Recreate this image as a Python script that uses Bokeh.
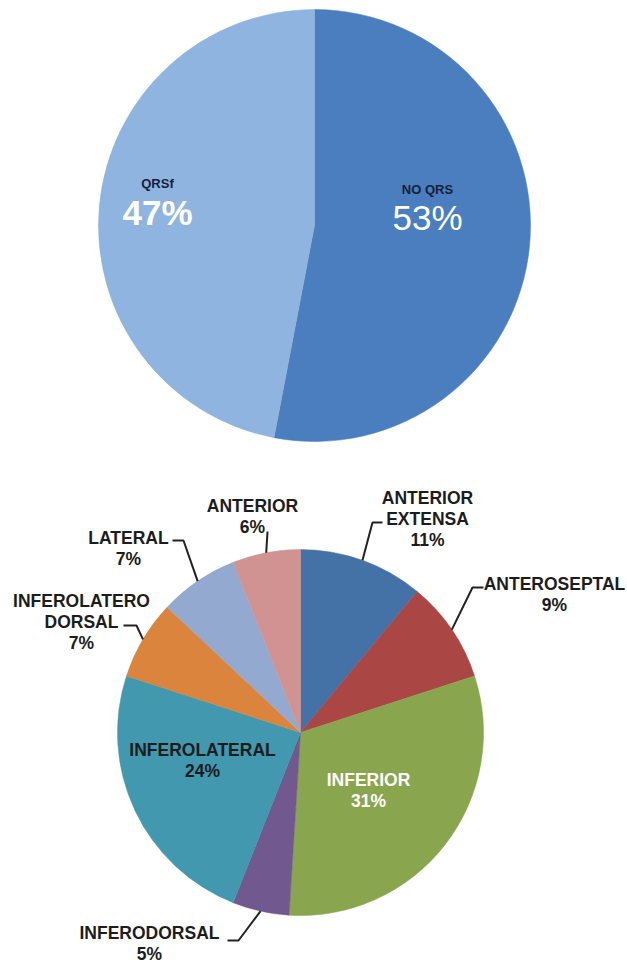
import math
from bokeh.plotting import figure
from bokeh.models import ColumnDataSource, Range1d
from bokeh.core.properties import value
from bokeh.embed import file_html
from bokeh.resources import INLINE

W, H = 627, 962

# ---------------- data ----------------
top_categories = ["NO QRS", "QRSf"]
top_values = [53, 47]

bottom_categories = ["ANTERIOR EXTENSA", "ANTEROSEPTAL", "INFERIOR", "INFERODORSAL",
                     "INFEROLATERAL", "INFEROLATERO DORSAL", "LATERAL", "ANTERIOR"]
bottom_values = [11, 9, 31, 5, 24, 7, 7, 6]

# ---------------- styles ----------------
top_colors = ["#4a7ebf", "#8fb4e0"]
bottom_colors = ["#4471a6", "#aa4643", "#89a54e", "#71588f",
                 "#4198af", "#db843d", "#93a9cf", "#d19392"]

FONT = value("Liberation Sans")
DARK = "#1c1c1c"

TOP_C = (314, 225, 216)
BOT_C = (300, 732, 183)

p = figure(width=W, height=H, output_backend="svg", toolbar_location=None,
           x_range=Range1d(0, W), y_range=Range1d(0, H),
           min_border=0, min_border_left=0, min_border_right=0,
           min_border_top=0, min_border_bottom=0)
p.axis.visible = False
p.xgrid.visible = False
p.ygrid.visible = False
p.outline_line_color = None
p.background_fill_color = "white"
p.border_fill_color = "white"


def Y(py):
    return H - py


def pie(values, colors, center):
    cx, cy, r = center
    total = float(sum(values))
    starts, ends, mids = [], [], []
    cum = 0.0
    for v in values:
        a_end = math.pi / 2 - 2 * math.pi * cum / total
        a_start = math.pi / 2 - 2 * math.pi * (cum + v) / total
        starts.append(a_start)
        ends.append(a_end)
        mids.append((a_start + a_end) / 2)
        cum += v
    src = ColumnDataSource(dict(x=[cx] * len(values), y=[Y(cy)] * len(values),
                                start=starts, end=ends, color=colors))
    p.wedge(x="x", y="y", radius=r, start_angle="start", end_angle="end",
            fill_color="color", line_color="color", line_width=0.5, source=src)
    return mids


def text(x, y, s, size, color, style="bold"):
    p.text(x=[x], y=[Y(y)], text=[s], text_align="center", text_baseline="middle",
           text_font=FONT, text_font_size=size, text_font_style=style,
           text_color=color)


# ---------------- top pie ----------------
pie(top_values, top_colors, TOP_C)
top_layout = {
    "NO QRS": dict(x=427, y=189, py=217, pstyle="normal"),
    "QRSf": dict(x=157, y=183, py=212, pstyle="bold"),
}
for cat, v in zip(top_categories, top_values):
    L = top_layout[cat]
    text(L["x"], L["y"], cat, "13px", "#17203a", "bold")
    text(L["x"], L["py"], f"{v}%", "35px", "white", L["pstyle"])

# ---------------- bottom pie ----------------
mids = pie(bottom_values, bottom_colors, BOT_C)
bottom_layout = {
    "ANTERIOR EXTENSA": dict(lines=["ANTERIOR", "EXTENSA"], x=427, y=497, color=DARK,
                             elbow=[(382, 522), (372, 522)]),
    "ANTEROSEPTAL": dict(lines=["ANTEROSEPTAL"], x=554, y=583, color=DARK,
                         elbow=[(483, 587), (472, 587)]),
    "INFERIOR": dict(lines=["INFERIOR"], x=368, y=779, color="white", elbow=None,
                     style="bold"),
    "INFERODORSAL": dict(lines=["INFERODORSAL"], x=149, y=932, color=DARK,
                         elbow=[(227, 940), (238, 940)]),
    "INFEROLATERAL": dict(lines=["INFEROLATERAL"], x=202, y=749, color=DARK, elbow=None),
    "INFEROLATERO DORSAL": dict(lines=["INFEROLATERO", "DORSAL"], x=81, y=600, color=DARK,
                                elbow=[(123, 625), (136, 625)]),
    "LATERAL": dict(lines=["LATERAL"], x=128, y=537, color=DARK,
                    elbow=[(172, 540), (183, 540)]),
    "ANTERIOR": dict(lines=["ANTERIOR"], x=252, y=505, color=DARK,
                     elbow=[(267, 531)]),
}
cx, cy, r = BOT_C
LH = 21
for cat, v, m in zip(bottom_categories, bottom_values, mids):
    L = bottom_layout[cat]
    style = L.get("style", "bold")
    y = L["y"]
    for line in L["lines"]:
        text(L["x"], y, line, "17.5px", L["color"], style)
        y += LH
    text(L["x"], y, f"{v}%", "17.5px", L["color"], style)
    if L["elbow"]:
        ex = cx + r * math.cos(m)
        ey = Y(cy) + r * math.sin(m)
        xs = [q[0] for q in L["elbow"]] + [ex]
        ys = [Y(q[1]) for q in L["elbow"]] + [ey]
        p.line(xs, ys, line_color="#222222", line_width=2)

open("out.html", "w").write(file_html(p, INLINE))
